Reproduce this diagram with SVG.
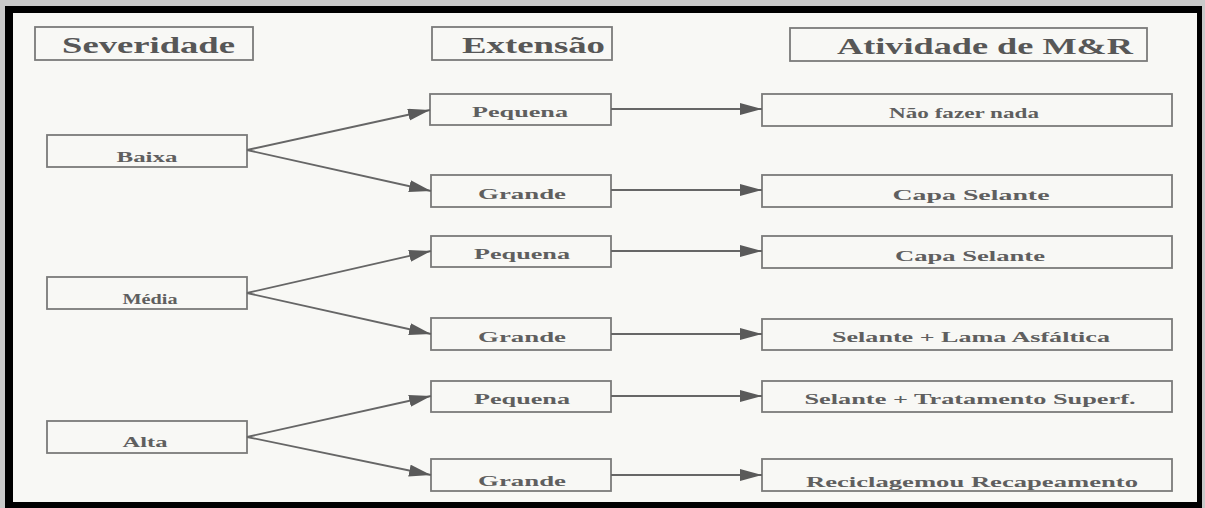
<svg xmlns="http://www.w3.org/2000/svg" width="1205" height="508" viewBox="0 0 1205 508">
<style>
.box{fill:#f8f8f5;stroke:#7a7a7a;stroke-width:1.8}
.hd{font-family:"Liberation Serif","Times New Roman",serif;font-weight:bold;font-size:23px;fill:#575757}
.nd{font-family:"Liberation Serif","Times New Roman",serif;font-weight:bold;font-size:15px;fill:#5f5f5f}
.cn{stroke:#666;stroke-width:1.8;fill:none;marker-end:url(#ah)}
</style>
<defs>
<marker id="ah" markerUnits="userSpaceOnUse" markerWidth="24" markerHeight="14" refX="22" refY="6" orient="auto">
<path d="M0,0 L22,6 L0,12 Z" fill="#5a5a5a"/>
</marker>
</defs>
<rect x="0" y="0" width="1205" height="508" fill="#c9c9c9"/>
<rect x="5" y="6" width="1197" height="502" fill="#000"/>
<rect x="13" y="13" width="1184" height="489" fill="#f8f8f5"/>

<g id="h-severidade"><rect class="box" x="35" y="27" width="218" height="33"/><text class="hd" x="62" y="53" textLength="173" lengthAdjust="spacingAndGlyphs">Severidade</text></g>
<g id="h-extensao"><rect class="box" x="432" y="27" width="180" height="33"/><text class="hd" x="462" y="53" textLength="143" lengthAdjust="spacingAndGlyphs">Extensão</text></g>
<g id="h-atividade"><rect class="box" x="790" y="28" width="357" height="33"/><text class="hd" x="837" y="54" textLength="296" lengthAdjust="spacingAndGlyphs">Atividade de M&amp;R</text></g>

<g id="baixa"><rect class="box" x="47" y="135" width="200" height="32"/><text class="nd" x="147" y="162" text-anchor="middle" textLength="61" lengthAdjust="spacingAndGlyphs">Baixa</text></g>
<g id="media"><rect class="box" x="47" y="277" width="200" height="32"/><text class="nd" x="150" y="304" text-anchor="middle" textLength="55" lengthAdjust="spacingAndGlyphs">Média</text></g>
<g id="alta"><rect class="box" x="47" y="421" width="200" height="32"/><text class="nd" x="145" y="447" text-anchor="middle" textLength="45" lengthAdjust="spacingAndGlyphs">Alta</text></g>

<g id="ext-p1"><rect class="box" x="430" y="94" width="181" height="31"/><text class="nd" x="520" y="117" text-anchor="middle" textLength="96" lengthAdjust="spacingAndGlyphs">Pequena</text></g>
<g id="ext-g1"><rect class="box" x="431" y="175" width="180" height="32"/><text class="nd" x="522" y="199" text-anchor="middle" textLength="88" lengthAdjust="spacingAndGlyphs">Grande</text></g>
<g id="ext-p2"><rect class="box" x="431" y="236" width="180" height="31"/><text class="nd" x="522" y="259" text-anchor="middle" textLength="96" lengthAdjust="spacingAndGlyphs">Pequena</text></g>
<g id="ext-g2"><rect class="box" x="431" y="318" width="180" height="32"/><text class="nd" x="522" y="342" text-anchor="middle" textLength="88" lengthAdjust="spacingAndGlyphs">Grande</text></g>
<g id="ext-p3"><rect class="box" x="431" y="381" width="180" height="31"/><text class="nd" x="522" y="404" text-anchor="middle" textLength="96" lengthAdjust="spacingAndGlyphs">Pequena</text></g>
<g id="ext-g3"><rect class="box" x="431" y="459" width="180" height="32"/><text class="nd" x="522" y="486" text-anchor="middle" textLength="88" lengthAdjust="spacingAndGlyphs">Grande</text></g>

<g id="at-1"><rect class="box" x="762" y="94" width="410" height="32"/><text class="nd" x="964" y="118" text-anchor="middle" textLength="150" lengthAdjust="spacingAndGlyphs">Não fazer nada</text></g>
<g id="at-2"><rect class="box" x="762" y="175" width="410" height="32"/><text class="nd" x="971" y="200" text-anchor="middle" textLength="157" lengthAdjust="spacingAndGlyphs">Capa Selante</text></g>
<g id="at-3"><rect class="box" x="762" y="236" width="410" height="32"/><text class="nd" x="970" y="261" text-anchor="middle" textLength="150" lengthAdjust="spacingAndGlyphs">Capa Selante</text></g>
<g id="at-4"><rect class="box" x="762" y="319" width="410" height="31"/><text class="nd" x="971" y="342" text-anchor="middle" textLength="278" lengthAdjust="spacingAndGlyphs">Selante + Lama Asfáltica</text></g>
<g id="at-5"><rect class="box" x="762" y="381" width="410" height="31"/><text class="nd" x="970" y="404" text-anchor="middle" textLength="331" lengthAdjust="spacingAndGlyphs">Selante + Tratamento Superf.</text></g>
<g id="at-6"><rect class="box" x="762" y="459" width="410" height="32"/><text class="nd" x="972" y="487" text-anchor="middle" textLength="332" lengthAdjust="spacingAndGlyphs">Reciclagemou Recapeamento</text></g>

<g id="connectors">
<line class="cn" x1="247" y1="150" x2="430" y2="110"/>
<line class="cn" x1="247" y1="150" x2="431" y2="191"/>
<line class="cn" x1="247" y1="293" x2="431" y2="251"/>
<line class="cn" x1="247" y1="293" x2="431" y2="334"/>
<line class="cn" x1="247" y1="437" x2="431" y2="396"/>
<line class="cn" x1="247" y1="437" x2="431" y2="475"/>
<line class="cn" x1="611" y1="109" x2="762" y2="109"/>
<line class="cn" x1="611" y1="190" x2="762" y2="190"/>
<line class="cn" x1="611" y1="251" x2="762" y2="251"/>
<line class="cn" x1="611" y1="334" x2="762" y2="334"/>
<line class="cn" x1="611" y1="396" x2="762" y2="396"/>
<line class="cn" x1="611" y1="475" x2="762" y2="475"/>
</g>
</svg>
